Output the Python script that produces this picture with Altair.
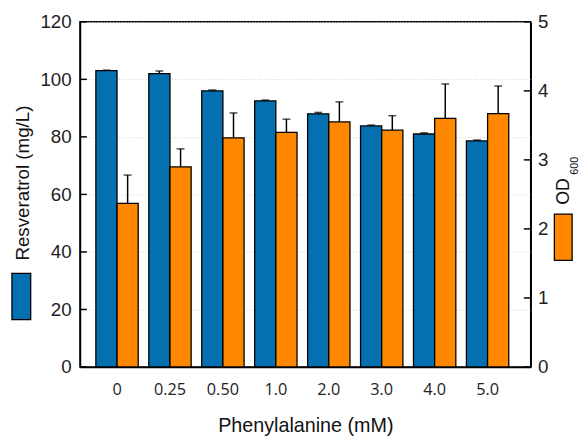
import altair as alt
import pandas as pd

# ---- data ----
conc = ["0", "0.25", "0.50", "1.0", "2.0", "3.0", "4.0", "5.0"]
res = [103.0, 102.0, 96.0, 92.5, 88.0, 83.8, 81.0, 78.6]
res_err = [0.2, 0.9, 0.3, 0.3, 0.5, 0.3, 0.4, 0.3]
od = [2.37, 2.90, 3.32, 3.40, 3.55, 3.43, 3.60, 3.67]
od_err = [0.41, 0.26, 0.36, 0.19, 0.29, 0.21, 0.50, 0.40]
left_ticks = [0, 20, 40, 60, 80, 100, 120]
right_ticks = [0, 1, 2, 3, 4, 5]

BLUE = "#0570b0"
ORANGE = "#ff8800"

df_res = pd.DataFrame({"conc": conc, "series": "Resveratrol", "value": res, "err": res_err})
df_res["top"] = df_res["value"] + df_res["err"]
df_od = pd.DataFrame({"conc": conc, "series": "OD600", "value": od, "err": od_err})
df_od["top"] = df_od["value"] + df_od["err"]

X = alt.X(
    "conc:N", sort=conc,
    scale=alt.Scale(paddingInner=0.2, paddingOuter=0.357, align=0.42),
    axis=alt.Axis(title="Phenylalanine (mM)", labelAngle=0, ticks=False, labelPadding=15,
                  labelFont="Open Sans", labelFontSize=16.5, labelColor="#222",
                  titleFont="Liberation Sans", titleFontSize=20, titleFontWeight="normal",
                  titleColor="#111", titleBaseline="middle", titleY=59,
                  domainColor="black", domainWidth=1.5, grid=False),
)
XO = alt.XOffset("series:N", scale=alt.Scale(domain=["Resveratrol", "OD600"], paddingInner=0, paddingOuter=0))

left_axis = alt.Axis(values=left_ticks, ticks=False, labelPadding=9, labelFont="Liberation Sans",
                     labelFontSize=19, labelColor="#222", grid=True, gridDash=[1, 2], gridColor="#d0d0d0",
                     domainColor="black", domainWidth=1.5, format="d",
                     title="Resveratrol (mg/L)", titleAngle=270, titleX=-58, titleY=163,
                     titleAlign="center", titleBaseline="middle", titleFont="Liberation Sans",
                     titleFontSize=19, titleFontWeight="normal", titleColor="#111")
right_axis = alt.Axis(values=right_ticks, orient="right", ticks=False, labelPadding=7, format="d",
                      labelFont="Liberation Sans", labelFontSize=19, labelColor="#222", grid=False,
                      domainColor="black", domainWidth=1.5, title=None)

YL = alt.Scale(domain=[0, 120])
YR = alt.Scale(domain=[0, 5])

bars_res = alt.Chart(df_res).mark_bar(color=BLUE, stroke="black", strokeWidth=1.3).encode(
    x=X, xOffset=XO, y=alt.Y("value:Q", scale=YL, axis=left_axis))
err_res = alt.Chart(df_res).mark_rule(color="black", strokeWidth=1.5).encode(
    x=X, xOffset=XO, y=alt.Y("value:Q", scale=YL), y2="top:Q")
cap_res = alt.Chart(df_res).mark_tick(color="black", thickness=1.5, size=8, orient="horizontal").encode(
    x=X, xOffset=XO, y=alt.Y("top:Q", scale=YL))
tick_l = alt.Chart(pd.DataFrame({"value": left_ticks})).mark_rule(color="black", strokeWidth=1.5).encode(
    y=alt.Y("value:Q", scale=YL), x=alt.value(0), x2=alt.value(7))
sw_l = alt.Chart(pd.DataFrame({"k": [1]})).mark_rect(color=BLUE, stroke="black", strokeWidth=1.3).encode(
    x=alt.value(-69), x2=alt.value(-50), y=alt.value(255), y2=alt.value(302))

left = alt.layer(bars_res, err_res, cap_res, tick_l, sw_l)

bars_od = alt.Chart(df_od).mark_bar(color=ORANGE, stroke="black", strokeWidth=1.3).encode(
    x=X, xOffset=XO, y=alt.Y("value:Q", scale=YR, axis=right_axis))
err_od = alt.Chart(df_od).mark_rule(color="black", strokeWidth=1.5).encode(
    x=X, xOffset=XO, y=alt.Y("value:Q", scale=YR), y2="top:Q")
cap_od = alt.Chart(df_od).mark_tick(color="black", thickness=1.5, size=8, orient="horizontal").encode(
    x=X, xOffset=XO, y=alt.Y("top:Q", scale=YR))
tick_r = alt.Chart(pd.DataFrame({"value": right_ticks})).mark_rule(color="black", strokeWidth=1.5).encode(
    y=alt.Y("value:Q", scale=YR), x=alt.value(450), x2=alt.value(457))
sw_r = alt.Chart(pd.DataFrame({"k": [1]})).mark_rect(color=ORANGE, stroke="black", strokeWidth=1.3).encode(
    x=alt.value(481), x2=alt.value(499), y=alt.value(195), y2=alt.value(242))
t_od = alt.Chart(pd.DataFrame({"t": ["OD"]})).mark_text(
    angle=270, font="Liberation Sans", fontSize=18, align="center", baseline="middle", color="#111").encode(
    text="t:N", x=alt.value(491), y=alt.value(172))
t_600 = alt.Chart(pd.DataFrame({"t": ["600"]})).mark_text(
    angle=270, font="Liberation Sans", fontSize=11, align="center", baseline="middle", color="#111").encode(
    text="t:N", x=alt.value(502), y=alt.value(146))

right = alt.layer(bars_od, err_od, cap_od, tick_r, sw_r, t_od, t_600)

chart = alt.layer(left, right).resolve_scale(y="independent").properties(
    width=457, height=350,
    autosize=alt.AutoSizeParams(type="none"),
    padding={"left": 73, "top": 11, "right": 50, "bottom": 69},
).configure_view(stroke="black", strokeWidth=1.5)

chart.save("out.html", embed_options={"renderer": "svg", "actions": False})
